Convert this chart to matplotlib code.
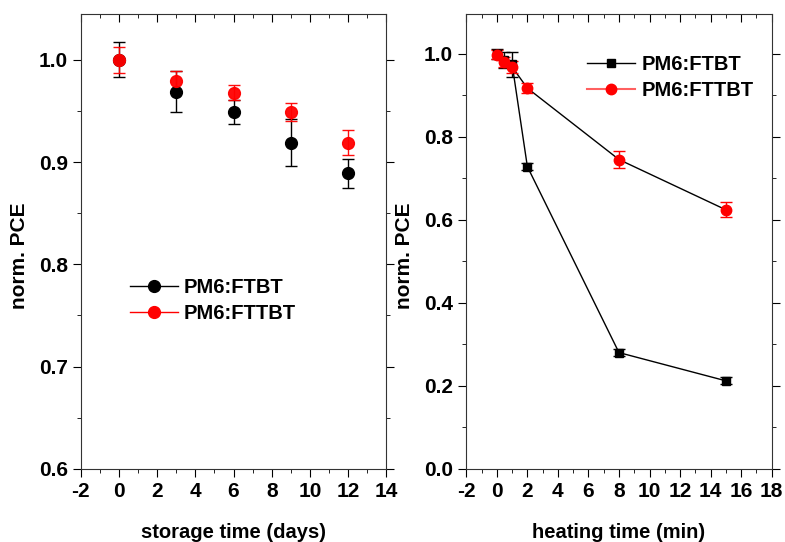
import matplotlib
matplotlib.use("Agg")
import matplotlib.pyplot as plt
from matplotlib.lines import Line2D
from matplotlib.ticker import MultipleLocator, FormatStrFormatter

plt.rcParams["font.family"] = ["Liberation Sans", "DejaVu Sans"]
plt.rcParams["font.weight"] = "bold"
plt.rcParams["axes.unicode_minus"] = False

# storage stability
storage_days = [0, 3, 6, 9, 12]
ftbt_storage = [1.0, 0.969, 0.949, 0.919, 0.889]
ftbt_storage_err = [0.017, 0.0205, 0.012, 0.023, 0.014]
fttbt_storage = [1.0, 0.979, 0.968, 0.949, 0.919]
fttbt_storage_err = [0.013, 0.010, 0.007, 0.009, 0.012]

# thermal stability
heat_min = [0, 0.5, 1, 2, 8, 15]
ftbt_heat = [1.0, 0.985, 0.975, 0.728, 0.280, 0.212]
ftbt_heat_err = [0.012, 0.02, 0.03, 0.008, 0.008, 0.008]
fttbt_heat = [0.998, 0.98, 0.968, 0.917, 0.745, 0.624]
fttbt_heat_err = [0.012, 0.012, 0.015, 0.012, 0.02, 0.018]

labels = ["PM6:FTBT", "PM6:FTTBT"]

fig = plt.figure(figsize=(7.85, 5.42), dpi=100)
ax1 = fig.add_axes([0.103, 0.135, 0.389, 0.8395])
ax2 = fig.add_axes([0.594, 0.135, 0.389, 0.8395])

ax1.errorbar(storage_days, ftbt_storage, yerr=ftbt_storage_err, fmt="o", color="black",
             ms=8.5, capsize=4, elinewidth=1, capthick=1)
ax1.errorbar(storage_days, fttbt_storage, yerr=fttbt_storage_err, fmt="o", color="red",
             ecolor="red", ms=8.5, capsize=4, elinewidth=1, capthick=1, alpha=0.95)

ax2.errorbar(heat_min, ftbt_heat, yerr=ftbt_heat_err, fmt="-s", color="black",
             ms=6, lw=1, capsize=4, elinewidth=1, capthick=1)
ax2.plot(heat_min, fttbt_heat, "-", color="black", lw=1)
ax2.errorbar(heat_min, fttbt_heat, yerr=fttbt_heat_err, fmt="o", color="red",
             ms=7.5, capsize=4, elinewidth=1, capthick=1)

ax1.set_xlim(-2, 14)
ax1.set_ylim(0.6, 1.045)
ax1.xaxis.set_major_locator(MultipleLocator(2))
ax1.xaxis.set_minor_locator(MultipleLocator(1))
ax1.yaxis.set_major_locator(MultipleLocator(0.1))
ax1.yaxis.set_minor_locator(MultipleLocator(0.05))
ax1.yaxis.set_major_formatter(FormatStrFormatter("%.1f"))

ax2.set_xlim(-2, 18)
ax2.set_ylim(0, 1.096)
ax2.xaxis.set_major_locator(MultipleLocator(2))
ax2.xaxis.set_minor_locator(MultipleLocator(1))
ax2.yaxis.set_major_locator(MultipleLocator(0.2))
ax2.yaxis.set_minor_locator(MultipleLocator(0.1))
ax2.yaxis.set_major_formatter(FormatStrFormatter("%.1f"))

for ax, xl in [(ax1, "storage time (days)"), (ax2, "heating time (min)")]:
    ax.set_xlabel(xl, fontsize=14.5, fontweight="bold", labelpad=16)
    ax.set_ylabel("norm. PCE", fontsize=15, fontweight="bold")
    ax.yaxis.set_label_coords(-0.17, 0.468)
    ax.tick_params(which="both", direction="out", labelsize=15)
    ax.tick_params(which="major", length=6)
    ax.tick_params(which="minor", length=3)
    ax.tick_params(axis="x", which="both", top=True)
    ax.tick_params(axis="y", which="both", right=True)
    for sp in ax.spines.values():
        sp.set_color("#333333")

# ticks on top/right point inward
for ax in (ax1, ax2):
    for t in ax.xaxis.get_ticklines(minor=False)[1::2] + ax.xaxis.get_ticklines(minor=True)[1::2]:
        t.set_marker(3)
    for t in ax.yaxis.get_ticklines(minor=False)[1::2] + ax.yaxis.get_ticklines(minor=True)[1::2]:
        t.set_marker(1)

h1 = [Line2D([], [], color="black", marker="o", ms=8.5, lw=1),
      Line2D([], [], color="red", marker="o", ms=8.5, lw=1)]
ax1.legend(h1, labels, loc="center left", bbox_to_anchor=(0.1, 0.37), frameon=False,
           fontsize=14.5, handlelength=2.4, handletextpad=0.3, labelspacing=0.35)

h2 = [Line2D([], [], color="black", marker="s", ms=6, lw=1),
      Line2D([], [], color="#ff6060", marker="o", ms=7.5, mfc="red", mec="red", lw=1.5)]
ax2.legend(h2, labels, loc="upper right", bbox_to_anchor=(1.0, 0.95), frameon=False,
           fontsize=14.5, handlelength=2.4, handletextpad=0.3, labelspacing=0.35)

fig.savefig("out.png", dpi=100)
